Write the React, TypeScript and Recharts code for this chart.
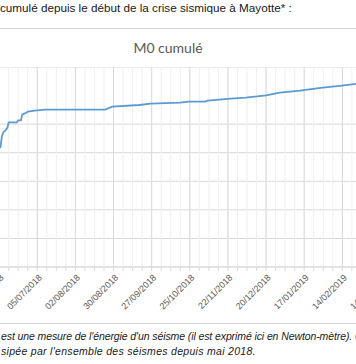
import { LineChart, Line, XAxis, YAxis, CartesianGrid, ReferenceLine } from 'recharts';

// cumulative seismic moment (y axis is off-picture, units of the 7 grid steps)
const dates = [
  '10/05/2018', '12/05/2018', '15/05/2018', '16/05/2018', '20/05/2018', '25/05/2018', '01/06/2018', '05/06/2018',
  '08/06/2018', '09/06/2018', '10/06/2018', '12/06/2018', '13/06/2018', '14/06/2018', '20/06/2018', '21/06/2018',
  '23/06/2018', '24/06/2018', '25/06/2018', '27/06/2018', '28/06/2018', '03/07/2018', '11/07/2018', '24/08/2018',
  '29/08/2018', '18/09/2018', '26/09/2018', '18/10/2018', '24/10/2018', '05/11/2018', '07/11/2018', '24/11/2018',
  '05/12/2018', '20/12/2018', '30/12/2018', '14/01/2019', '29/01/2019', '12/02/2019', '24/02/2019', '05/03/2019',
];
const m0 = [
  0.0, 0.4, 2.6, 3.0, 3.3, 3.6, 3.9, 4.05,
  4.2, 4.57, 4.71, 4.8, 4.87, 5.06, 5.06, 5.13,
  5.13, 5.34, 5.36, 5.4, 5.44, 5.47, 5.51, 5.51,
  5.61, 5.67, 5.72, 5.75, 5.79, 5.79, 5.82, 5.89,
  5.93, 6.01, 6.1, 6.17, 6.27, 6.34, 6.41, 6.45,
];

const majorTicks = [
  '10/05/2018', '07/06/2018', '05/07/2018', '02/08/2018', '30/08/2018', '27/09/2018', '25/10/2018',
  '22/11/2018', '20/12/2018', '17/01/2019', '14/02/2019', '14/03/2019',
];
const axisStart = '10/05/2018';
const axisEnd = '21/03/2019';
const yTicks = [0, 1, 2, 3, 4, 5, 6, 7];

const DAY = 86400000;
const toTs = (s: string) => {
  const [d, m, y] = s.split('/').map(Number);
  return Date.UTC(y, m - 1, d);
};
const fmt = (t: number) => {
  const dt = new Date(t);
  const p = (n: number) => String(n).padStart(2, '0');
  return `${p(dt.getUTCDate())}/${p(dt.getUTCMonth() + 1)}/${dt.getUTCFullYear()}`;
};

const data = dates.map((d, i) => ({ t: toTs(d), v: m0[i] }));
const start = toTs(axisStart);
const end = toTs(axisEnd);
const weekTicks: number[] = [];
for (let t = start; t <= end; t += 7 * DAY) weekTicks.push(t);
const majorTs = majorTicks.map(toTs);

function DateTick({ x, y, payload }: any) {
  if (!majorTs.includes(payload.value)) return <g />;
  const ax = x + 3;
  const ay = y + 3;
  return (
    <text
      x={ax}
      y={ay}
      dy="0.35em"
      transform={`rotate(-45 ${ax} ${ay})`}
      textAnchor="end"
      fontSize={9}
      fill="#595959"
      fontFamily="Liberation Sans, Arial, sans-serif"
    >
      {fmt(payload.value)}
    </text>
  );
}

export default function App() {
  return (
    <div
      style={{
        position: 'fixed', left: 0, top: 0, width: 356, height: 364, overflow: 'hidden',
        background: '#fff', fontFamily: 'Liberation Sans, Arial, sans-serif',
      }}
    >
      <div style={{ position: 'absolute', left: 0, top: 1, fontSize: 11.7, color: '#1a1a1a', whiteSpace: 'nowrap' }}>
        cumulé depuis le début de la crise sismique à Mayotte* :
      </div>
      <div style={{ position: 'absolute', left: -10, top: 28, width: 380, height: 294, border: '1px solid #d9d9d9' }} />
      <div
        style={{
          position: 'absolute', left: 0, top: 39, width: 344, textAlign: 'center',
          fontSize: 14, color: '#595959', fontFamily: 'Lato, sans-serif',
        }}
      >
        <span style={{ position: 'relative', left: -4 }}>M0 cumulé</span>
      </div>
      <div style={{ position: 'absolute', left: -39, top: 67 }}>
        <LineChart width={429} height={252} data={data} margin={{ top: 0, right: 0, bottom: 0, left: 0 }}>
          <CartesianGrid vertical={false} stroke="#d9d9d9" />
          <CartesianGrid horizontal={false} stroke="#efefef" />
          {majorTs.map((t) => (
            <ReferenceLine key={t} x={t} stroke="#d9d9d9" />
          ))}
          <XAxis
            dataKey="t"
            type="number"
            domain={[start, end]}
            ticks={weekTicks}
            interval={0}
            tick={<DateTick />}
            tickSize={4}
            tickLine={{ stroke: '#d9d9d9' }}
            axisLine={{ stroke: '#d9d9d9' }}
            height={52}
            allowDataOverflow
          />
          <YAxis hide domain={[0, 7]} ticks={yTicks} />
          <Line type="linear" dataKey="v" stroke="#5B9BD5" strokeWidth={1.8} dot={false} isAnimationActive={false} />
        </LineChart>
      </div>
      <div
        style={{
          position: 'absolute', left: 1, top: 329, fontSize: 10.5, fontStyle: 'italic',
          color: '#1a1a1a', whiteSpace: 'nowrap', lineHeight: '15px',
        }}
      >
        <div style={{ letterSpacing: -0.1 }}>
          est une mesure de l'énergie d'un séisme (il est exprimé ici en Newton-mètre). C
        </div>
        <div style={{ letterSpacing: 0.3 }}>sipée par l'ensemble des séismes depuis mai 2018.</div>
      </div>
    </div>
  );
}
